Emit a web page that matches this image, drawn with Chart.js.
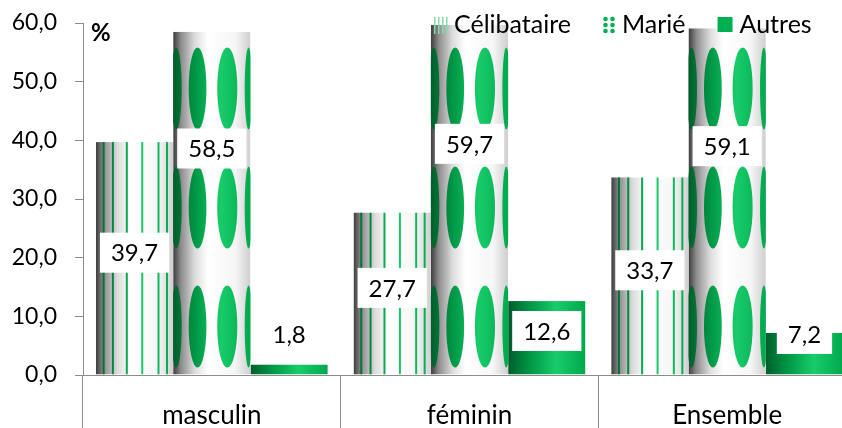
<!DOCTYPE html>
<html><head><meta charset="utf-8">
<script src="https://cdn.jsdelivr.net/npm/chart.js@4.4.1/dist/chart.umd.min.js"></script>
<style>html,body{margin:0;padding:0;background:#fff;overflow:hidden}#wrap{width:856px;height:428px;position:relative}</style>
</head><body><div id="wrap"><canvas id="c" width="856" height="428"></canvas></div>
<script>
const categories = ['masculin', 'féminin', 'Ensemble'];
const seriesNames = ['Célibataire', 'Marié', 'Autres'];
const celibataire = [39.7, 27.7, 33.7];
const marie = [58.5, 59.7, 59.1];
const autres = [1.8, 12.6, 7.2];
const yTicks = [0, 10, 20, 30, 40, 50, 60];
const unitLabel = '%';

const FONT = 'Lato, "Open Sans", sans-serif';
const fmt = v => v.toFixed(1).replace('.', ',');

function grayCylinder(ctx, x0, x1) {
  const g = ctx.createLinearGradient(x0, 0, x1, 0);
  g.addColorStop(0, '#3c3c3c');
  g.addColorStop(0.1, '#8c8c8c');
  g.addColorStop(0.28, '#dcdcdc');
  g.addColorStop(0.45, '#ffffff');
  g.addColorStop(0.8, '#f6f6f6');
  g.addColorStop(1, '#cfcfcf');
  return g;
}
function greenAcross(ctx, x0, x1) {
  const g = ctx.createLinearGradient(x0, 0, x1, 0);
  g.addColorStop(0, '#005e2c');
  g.addColorStop(0.3, '#009a48');
  g.addColorStop(0.62, '#18cc6a');
  g.addColorStop(1, '#00a84e');
  return g;
}

const drawers = [
  (ctx, l, t, w, b) => {
    ctx.fillStyle = grayCylinder(ctx, l, l + w);
    ctx.fillRect(l, t, w, b - t);
    ctx.fillStyle = greenAcross(ctx, l, l + w);
    [0.10, 0.22, 0.40, 0.60, 0.81, 0.92].forEach(f => {
      ctx.fillRect(l + f * w - 1, t, 2, b - t);
    });
  },
  (ctx, l, t, w, b) => {
    ctx.fillStyle = grayCylinder(ctx, l, l + w);
    ctx.fillRect(l, t, w, b - t);
    ctx.fillStyle = greenAcross(ctx, l, l + w);
    const cols = [[0.04, 0.07], [0.315, 0.115], [0.70, 0.13], [0.975, 0.05]];
    for (let k = 0; k < 5; k++) {
      const cy = b - 48 - k * 119;
      cols.forEach(([f, r]) => {
        ctx.beginPath();
        ctx.ellipse(l + f * w, cy, r * w, 41, 0, 0, Math.PI * 2);
        ctx.fill();
      });
    }
  },
  (ctx, l, t, w, b) => {
    ctx.fillStyle = greenAcross(ctx, l, l + w);
    ctx.fillRect(l, t, w, b - t);
  }
];

const labelAnchor = [
  v => v / 2 + 1,
  v => v * 0.66,
  v => Math.max(v / 2 + 1.2, 7)
];

const barPlugin = {
  id: 'barPlugin',
  afterDatasetsDraw(chart) {
    const ctx = chart.ctx;
    const yScale = chart.scales.y;
    chart.data.datasets.forEach((ds, di) => {
      const meta = chart.getDatasetMeta(di);
      meta.data.forEach(el => {
        const l = el.x - el.width / 2, w = el.width, t = el.y, b = el.base;
        ctx.save();
        ctx.beginPath();
        ctx.rect(l, t, w, b - t);
        ctx.clip();
        drawers[di](ctx, l, t, w, b);
        ctx.restore();
      });
    });
    ctx.save();
    ctx.font = '24px ' + FONT;
    ctx.textAlign = 'center';
    ctx.textBaseline = 'middle';
    chart.data.datasets.forEach((ds, di) => {
      const meta = chart.getDatasetMeta(di);
      meta.data.forEach((el, i) => {
        const v = ds.data[i];
        const txt = fmt(v);
        const cy = yScale.getPixelForValue(labelAnchor[di](v));
        const tw = ctx.measureText(txt).width;
        const bw = tw + 22, bh = 40;
        ctx.fillStyle = '#ffffff';
        ctx.fillRect(el.x - bw / 2, cy - bh / 2, bw, bh);
        ctx.fillStyle = '#000000';
        ctx.fillText(txt, el.x, cy + 1);
      });
    });
    ctx.restore();
    ctx.save();
    ctx.font = 'bold 24px ' + FONT;
    ctx.fillStyle = '#000';
    ctx.textBaseline = 'middle';
    ctx.fillText(unitLabel, chart.chartArea.left + 8, 33);
    ctx.restore();
    ctx.save();
    ctx.font = '25px ' + FONT;
    ctx.textBaseline = 'middle';
    let x = 434;
    const cy = 25;
    seriesNames.forEach((name, i) => {
      if (i === 0) {
        ctx.fillStyle = '#86dca6';
        for (let k = 0; k < 4; k++) ctx.fillRect(x + k * 4, cy - 8, 1.5, 17);
        x += 14;
      } else if (i === 1) {
        ctx.fillStyle = '#00b050';
        for (let c = 0; c < 2; c++) for (let r = 0; r < 3; r++) {
          ctx.beginPath();
          ctx.arc(x + 2.5 + c * 7, cy - 6 + r * 6, 2.3, 0, Math.PI * 2);
          ctx.fill();
        }
        x += 13;
      } else {
        ctx.fillStyle = '#00b050';
        ctx.fillRect(x, cy - 8, 15, 15);
        x += 16;
      }
      x += 6;
      ctx.fillStyle = '#000';
      ctx.fillText(name, x, cy);
      x += ctx.measureText(name).width + 32;
    });
    ctx.restore();
  }
};

new Chart(document.getElementById('c'), {
  type: 'bar',
  data: {
    labels: categories,
    datasets: [
      { label: seriesNames[0], data: celibataire },
      { label: seriesNames[1], data: marie },
      { label: seriesNames[2], data: autres }
    ].map(d => Object.assign(d, { backgroundColor: 'rgba(0,0,0,0)', borderWidth: 0, categoryPercentage: 0.9, barPercentage: 1.0 }))
  },
  options: {
    responsive: false,
    animation: false,
    devicePixelRatio: 1,
    layout: { padding: { top: 23, left: 0, right: 0, bottom: 0 } },
    plugins: { legend: { display: false }, tooltip: { enabled: false } },
    scales: {
      x: {
        grid: { display: true, drawOnChartArea: false, tickLength: 53, color: '#8c8c8c', offset: true },
        border: { display: true, color: '#8c8c8c' },
        ticks: { font: { family: FONT, size: 26 }, color: '#000', padding: -28 },
        afterFit: s => { s.height = 53; }
      },
      y: {
        min: 0, max: 60,
        afterBuildTicks: s => { s.ticks = yTicks.map(v => ({ value: v })); },
        grid: { display: true, drawOnChartArea: false, tickLength: 8, color: '#8c8c8c' },
        border: { display: true, color: '#8c8c8c' },
        ticks: { font: { family: FONT, size: 23 }, color: '#000', padding: 18, callback: v => fmt(v) },
        afterFit: s => { s.width = 83; s.paddingTop = 0; s.paddingBottom = 0; }
      }
    }
  },
  plugins: [barPlugin]
});
</script>
</body></html>
